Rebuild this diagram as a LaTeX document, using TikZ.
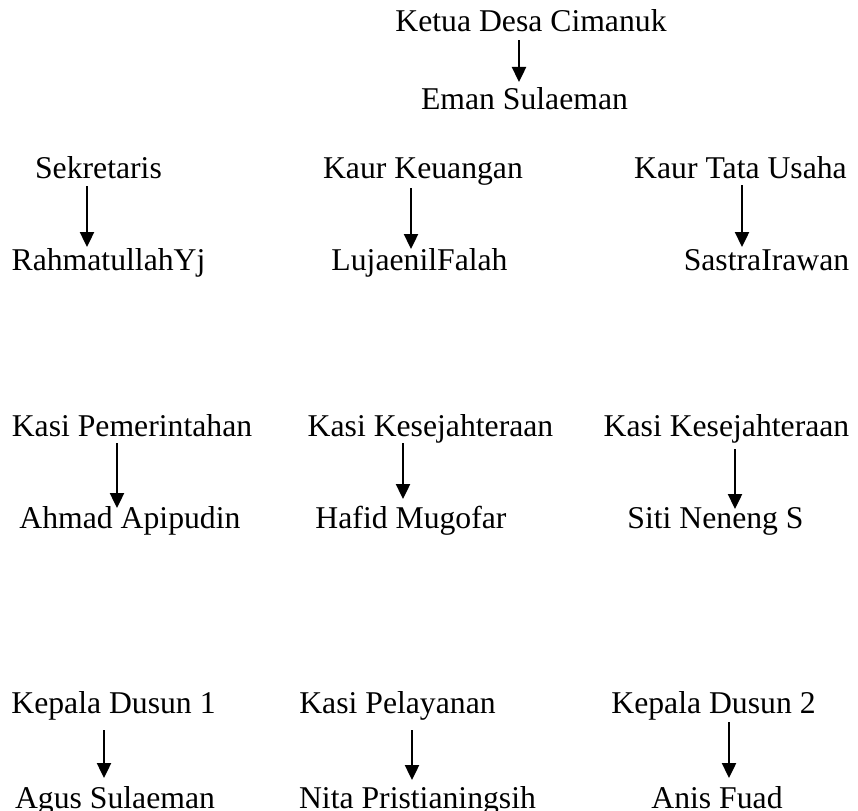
\documentclass[tikz,border=0pt]{standalone}
\usepackage{fontspec}
\setmainfont{Liberation Serif}
\usepackage{tikz}
\usetikzlibrary{arrows.meta,calc}

\begin{document}
\begin{tikzpicture}[>=Latex,x=1pt,y=-1pt]
\tikzset{
 lbl/.style={font=\fontsize{31.7}{38}\selectfont,inner sep=0pt,text height=20.8pt,text depth=0pt,anchor=base},
 arrow/.style={-{Triangle[length=15pt,width=14pt]},line width=2.4pt}
}
\useasboundingbox (0,0) rectangle (858,810);
% kepala desa
\node[lbl] (ketua) at (531,32) {Ketua Desa Cimanuk};
\node[lbl] (eman) at (524.5,110) {Eman Sulaeman};
% kaur
\node[lbl] (sek) at (98.5,179) {Sekretaris};
\node[lbl] (rah) at (108.5,270) {RahmatullahYj};
\node[lbl] (keu) at (423,179) {Kaur Keuangan};
\node[lbl] (luj) at (419.5,270) {LujaenilFalah};
\node[lbl] (tu) at (740.5,179) {Kaur Tata Usaha};
\node[lbl] (sas) at (766.5,270) {SastraIrawan};
% kasi
\node[lbl] (pem) at (132,436) {Kasi Pemerintahan};
\node[lbl] (ahm) at (130,528) {Ahmad Apipudin};
\node[lbl] (kes1) at (430.5,436) {Kasi Kesejahteraan};
\node[lbl] (haf) at (411,528) {Hafid Mugofar};
\node[lbl] (kes2) at (726.5,436) {Kasi Kesejahteraan};
\node[lbl] (siti) at (715.5,528) {Siti Neneng S};
% dusun
\node[lbl] (kd1) at (113.5,713) {Kepala Dusun 1};
\node[lbl] (agus) at (115,808) {Agus Sulaeman};
\node[lbl] (pel) at (397.5,713) {Kasi Pelayanan};
\node[lbl] (nita) at (417.5,808) {Nita Pristianingsih};
\node[lbl] (kd2) at (713.5,713) {Kepala Dusun 2};
\node[lbl] (anis) at (717,808) {Anis Fuad};
% panah
\draw[arrow] ([xshift=-12pt,yshift=-8pt]ketua.south) coordinate (a0) -- ([yshift=7pt]a0 |- eman.north);
\draw[arrow] ([xshift=-11.5pt,yshift=-7pt]sek.south) coordinate (a1) -- ([yshift=2pt]a1 |- rah.north);
\draw[arrow] ([xshift=-12pt,yshift=-9pt]keu.south) coordinate (a2) -- ([yshift=0pt]a2 |- luj.north);
\draw[arrow] ([xshift=1.5pt,yshift=-6pt]tu.south) coordinate (a3) -- ([yshift=2pt]a3 |- sas.north);
\draw[arrow] ([xshift=-15pt,yshift=-7pt]pem.south) coordinate (a4) -- ([yshift=-1pt]a4 |- ahm.north);
\draw[arrow] ([xshift=-27.5pt,yshift=-7pt]kes1.south) coordinate (a5) -- ([yshift=8pt]a5 |- haf.north);
\draw[arrow] ([xshift=8.5pt,yshift=-13pt]kes2.south) coordinate (a6) -- ([yshift=-2pt]a6 |- siti.north);
\draw[arrow] ([xshift=-9.5pt,yshift=-17pt]kd1.south) coordinate (a7) -- ([yshift=9pt]a7 |- agus.north);
\draw[arrow] ([xshift=14.5pt,yshift=-17pt]pel.south) coordinate (a8) -- ([yshift=7pt]a8 |- nita.north);
\draw[arrow] ([xshift=15.5pt,yshift=-9pt]kd2.south) coordinate (a9) -- ([yshift=9pt]a9 |- anis.north);
\end{tikzpicture}
\end{document}
